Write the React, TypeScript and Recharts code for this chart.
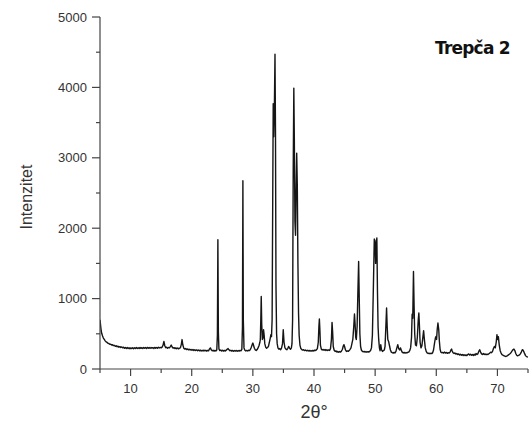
import React from "react";
import { LineChart, Line, XAxis, YAxis } from "recharts";

// [2θ (degrees), intensity (counts)]
const lowAngle: [number, number][] = [
  [5.0, 700], [5.05, 660], [5.12, 600], [5.2, 540], [5.3, 500], [5.42, 470], [5.55, 440], [5.7, 420],
  [5.85, 400], [6.0, 385], [6.15, 378], [6.3, 366], [6.45, 362], [6.6, 350], [6.75, 352], [6.9, 340],
  [7.05, 344], [7.2, 332], [7.35, 336], [7.5, 322], [7.65, 330], [7.8, 316], [7.95, 324], [8.1, 310],
  [8.25, 318], [8.4, 305], [8.55, 314], [8.7, 300], [8.85, 310], [9.0, 296], [9.15, 306], [9.3, 292],
  [9.45, 304], [9.6, 290], [9.75, 302], [9.9, 288], [10.05, 300], [10.2, 290], [10.35, 303], [10.5, 289],
  [10.65, 301], [10.8, 291], [10.95, 304], [11.1, 292], [11.25, 302], [11.4, 290], [11.55, 305], [11.7, 293],
  [11.85, 303], [12.0, 291], [12.15, 306], [12.3, 294], [12.45, 304], [12.6, 292], [12.75, 307], [12.9, 295],
  [13.05, 305], [13.2, 293], [13.35, 306], [13.5, 296], [13.65, 304], [13.8, 292], [13.95, 307], [14.1, 296],
  [14.25, 305], [14.4, 294], [14.55, 308], [14.7, 298], [14.85, 306], [15.0, 300], [15.15, 310], [15.3, 335],
  [15.45, 392], [15.6, 330], [15.75, 302], [15.9, 310], [16.05, 296], [16.2, 306], [16.35, 300], [16.5, 318],
  [16.65, 340], [16.8, 312], [16.95, 296], [17.1, 304], [17.25, 290], [17.4, 300], [17.55, 288], [17.7, 298],
  [17.85, 286], [18.0, 296], [18.15, 300], [18.3, 350], [18.42, 418], [18.55, 340], [18.7, 296], [18.85, 282],
  [19.0, 290], [19.15, 276], [19.3, 286], [19.45, 272], [19.6, 282], [19.75, 270], [19.9, 278],
];

const midAngle: [number, number][] = [
  [20.05, 266], [20.2, 276], [20.35, 264], [20.5, 274], [20.65, 262], [20.8, 272], [20.95, 260], [21.1, 270],
  [21.25, 258], [21.4, 268], [21.55, 256], [21.7, 266], [21.85, 256], [22.0, 268], [22.15, 258], [22.3, 266],
  [22.45, 254], [22.6, 264], [22.75, 258], [22.9, 285], [23.05, 300], [23.2, 272], [23.35, 258], [23.5, 266],
  [23.65, 254], [23.8, 264], [23.95, 256], [24.1, 270], [24.2, 480], [24.28, 1836], [24.36, 520], [24.45, 285],
  [24.6, 262], [24.75, 270], [24.9, 256], [25.05, 266], [25.2, 254], [25.35, 264], [25.5, 256], [25.65, 268],
  [25.8, 280], [25.95, 290], [26.1, 272], [26.25, 260], [26.4, 266], [26.55, 254], [26.7, 264], [26.85, 252],
  [27.0, 262], [27.15, 254], [27.3, 264], [27.45, 252], [27.6, 262], [27.75, 254], [27.9, 264], [28.05, 258],
  [28.2, 280], [28.3, 600], [28.37, 2674], [28.44, 700], [28.55, 300], [28.7, 266], [28.85, 256], [29.0, 264],
  [29.15, 256], [29.3, 266], [29.45, 262], [29.6, 280], [29.75, 310], [29.9, 350], [30.0, 369], [30.1, 340],
  [30.25, 295], [30.4, 272], [30.55, 262], [30.7, 276], [30.85, 300], [31.0, 330], [31.15, 380], [31.22, 416],
  [31.3, 700], [31.37, 1031], [31.45, 640], [31.55, 420], [31.65, 440], [31.75, 558], [31.85, 480], [31.95, 360],
  [32.1, 310], [32.25, 296], [32.4, 306], [32.55, 321], [32.7, 380], [32.85, 440], [32.95, 487], [33.05, 460],
  [33.15, 700], [33.25, 2400], [33.33, 3770], [33.42, 3300], [33.52, 3700], [33.62, 4470], [33.7, 3400], [33.78, 1200],
  [33.88, 500], [33.98, 360], [34.1, 300], [34.25, 282], [34.4, 290], [34.55, 274], [34.7, 300], [34.85, 360],
  [34.97, 558], [35.1, 380], [35.25, 300], [35.4, 282], [35.55, 274], [35.7, 290], [35.85, 321], [36.0, 296],
  [36.15, 280], [36.3, 300], [36.4, 360], [36.5, 700], [36.6, 2800], [36.7, 3990], [36.78, 3300], [36.88, 2100],
  [36.98, 1900], [37.07, 2500], [37.17, 3067], [37.27, 2600], [37.37, 1500], [37.47, 800], [37.57, 480], [37.7, 340],
  [37.85, 290], [38.0, 276], [38.15, 268], [38.3, 274], [38.45, 262], [38.6, 270], [38.75, 258], [38.9, 266],
  [39.05, 256], [39.2, 264], [39.35, 254], [39.5, 262], [39.65, 254], [39.8, 264], [39.95, 256],
];

const highAngle: [number, number][] = [
  [40.1, 268], [40.25, 262], [40.4, 272], [40.55, 290], [40.7, 380], [40.8, 600], [40.88, 710], [40.96, 560],
  [41.05, 340], [41.2, 282], [41.35, 270], [41.5, 278], [41.65, 266], [41.8, 276], [41.95, 264], [42.1, 274],
  [42.25, 262], [42.4, 272], [42.55, 264], [42.7, 290], [42.85, 420], [42.95, 662], [43.05, 520], [43.15, 320],
  [43.3, 266], [43.45, 250], [43.6, 258], [43.75, 240], [43.9, 250], [44.05, 238], [44.2, 248], [44.35, 240],
  [44.5, 256], [44.65, 280], [44.8, 330], [44.9, 345], [45.0, 320], [45.15, 270], [45.3, 250], [45.45, 258],
  [45.6, 250], [45.75, 262], [45.9, 280], [46.05, 300], [46.2, 360], [46.35, 420], [46.5, 600], [46.62, 781],
  [46.72, 640], [46.82, 450], [46.92, 420], [47.05, 600], [47.18, 1100], [47.3, 1528], [47.4, 1000], [47.5, 500],
  [47.62, 320], [47.75, 270], [47.9, 252], [48.05, 244], [48.2, 250], [48.35, 240], [48.5, 248], [48.65, 238],
  [48.8, 246], [48.95, 240], [49.1, 250], [49.25, 262], [49.4, 300], [49.55, 480], [49.72, 1200], [49.86, 1846],
  [49.98, 1820], [50.08, 1500], [50.18, 1760], [50.28, 1860], [50.38, 1100], [50.48, 600], [50.58, 420], [50.7, 300],
  [50.8, 260], [50.92, 345], [51.05, 270], [51.2, 250], [51.35, 262], [51.5, 270], [51.62, 320], [51.75, 600],
  [51.87, 866], [51.97, 600], [52.07, 420], [52.2, 392], [52.35, 330], [52.5, 270], [52.65, 240], [52.8, 232],
  [52.95, 226], [53.1, 236], [53.25, 228], [53.4, 250], [53.55, 300], [53.7, 345], [53.85, 290], [54.0, 270],
  [54.15, 300], [54.3, 260], [54.45, 236], [54.6, 228], [54.75, 236], [54.9, 226], [55.05, 234], [55.2, 228],
  [55.35, 238], [55.5, 240], [55.65, 260], [55.8, 300], [55.95, 450], [56.05, 780], [56.15, 720], [56.27, 1386],
  [56.37, 900], [56.47, 500], [56.6, 340], [56.75, 330], [56.9, 450], [57.05, 700], [57.15, 795], [57.25, 600],
  [57.35, 380], [57.5, 300], [57.65, 330], [57.8, 450], [57.93, 544], [58.05, 420], [58.2, 300], [58.35, 250],
  [58.5, 228], [58.65, 220], [58.8, 226], [58.95, 216], [59.1, 224], [59.25, 218], [59.4, 232], [59.55, 270],
  [59.7, 360], [59.85, 440], [59.95, 463], [60.05, 420], [60.15, 560], [60.27, 653], [60.4, 560], [60.5, 400],
  [60.62, 280], [60.75, 240], [60.9, 230],
];

const tailAngle: [number, number][] = [
  [61.05, 236], [61.2, 226], [61.35, 240], [61.5, 226], [61.65, 236], [61.8, 222], [61.95, 232], [62.1, 226],
  [62.25, 240], [62.4, 270], [62.5, 283], [62.6, 255], [62.75, 230], [62.9, 220], [63.05, 228], [63.2, 212],
  [63.35, 220], [63.5, 206], [63.65, 214], [63.8, 200], [63.95, 210], [64.1, 196], [64.25, 206], [64.4, 192],
  [64.55, 204], [64.7, 190], [64.85, 200], [65.0, 190], [65.15, 206], [65.3, 214], [65.45, 200], [65.6, 210],
  [65.75, 196], [65.9, 206], [66.05, 192], [66.2, 210], [66.35, 196], [66.5, 220], [66.65, 205], [66.8, 215],
  [66.95, 250], [67.1, 274], [67.25, 240], [67.4, 214], [67.55, 206], [67.7, 220], [67.85, 206], [68.0, 214],
  [68.15, 203], [68.3, 212], [68.45, 205], [68.6, 216], [68.75, 225], [68.9, 240], [69.05, 232], [69.2, 250],
  [69.35, 290], [69.5, 320], [69.65, 300], [69.8, 380], [69.92, 487], [70.02, 420], [70.15, 460], [70.3, 340],
  [70.45, 260], [70.6, 227], [70.75, 205], [70.9, 196], [71.05, 188], [71.2, 184], [71.35, 178], [71.5, 182],
  [71.65, 190], [71.8, 200], [71.95, 210], [72.1, 220], [72.25, 236], [72.4, 256], [72.55, 276], [72.7, 283],
  [72.85, 262], [73.0, 220], [73.15, 196], [73.3, 186], [73.45, 192], [73.6, 200], [73.75, 215], [73.9, 240],
  [74.05, 270], [74.15, 274], [74.3, 250], [74.45, 218], [74.6, 190], [74.75, 176], [74.9, 172], [75.0, 168],
];

const xTicks = [5, 10, 15, 20, 25, 30, 35, 40, 45, 50, 55, 60, 65, 70, 75];
const yTicks = [0, 500, 1000, 1500, 2000, 2500, 3000, 3500, 4000, 4500, 5000];
const xTitle = "2θ°";
const yTitle = "Intenzitet";
const sampleTitle = "Trepča 2";

const data = [...lowAngle, ...midAngle, ...highAngle, ...tailAngle].map(([x, y]) => ({ x, y }));

const AXIS = "#444";
const LABEL = "#333";
const SANS = "'Liberation Sans', Arial, sans-serif";

const XTick = (props: any) => {
  const { x, y, payload } = props;
  const v = payload.value;
  const major = v % 10 === 0;
  return (
    <g>
      <line x1={x} x2={x} y1={y} y2={y + (major ? 7 : 4)} stroke={AXIS} strokeWidth={1.2} />
      {major && (
        <text x={x} y={y + 24} textAnchor="middle" fontSize={13} fill={LABEL} fontFamily={SANS}>
          {v}
        </text>
      )}
    </g>
  );
};

const YTick = (props: any) => {
  const { x, y, payload } = props;
  const v = payload.value;
  const major = v % 1000 === 0;
  return (
    <g>
      <line x1={x - (major ? 8 : 4)} x2={x} y1={y} y2={y} stroke={AXIS} strokeWidth={1.2} />
      {major && (
        <text x={x - 13} y={y + 4.5} textAnchor="end" fontSize={13} fill={LABEL} fontFamily={SANS}>
          {v}
        </text>
      )}
    </g>
  );
};

const XTitle = () => (
  <text x={314} y={418} textAnchor="middle" fontSize={18} fill={LABEL} fontFamily={SANS}>
    {xTitle}
  </text>
);

const YTitle = () => (
  <text
    x={32}
    y={197}
    transform="rotate(-90, 32, 197)"
    textAnchor="middle"
    fontSize={16}
    fill={LABEL}
    fontFamily={SANS}
  >
    {yTitle}
  </text>
);

export default function App() {
  return (
    <div style={{ position: "absolute", left: 0, top: 0, width: 531, height: 432, background: "#fff" }}>
      <LineChart width={531} height={432} data={data} margin={{ top: 17, right: 3, bottom: 0, left: 0 }}>
        <XAxis
          type="number"
          dataKey="x"
          domain={[5, 75]}
          ticks={xTicks}
          interval={0}
          allowDataOverflow
          height={63}
          tickSize={0}
          tickMargin={0}
          tickLine={false}
          axisLine={{ stroke: AXIS, strokeWidth: 1.2 }}
          tick={<XTick />}
          label={<XTitle />}
        />
        <YAxis
          type="number"
          domain={[0, 5000]}
          ticks={yTicks}
          interval={0}
          width={100}
          tickSize={0}
          tickMargin={0}
          tickLine={false}
          axisLine={{ stroke: AXIS, strokeWidth: 1.2 }}
          tick={<YTick />}
          label={<YTitle />}
        />
        <Line
          type="linear"
          dataKey="y"
          stroke="#151515"
          strokeWidth={1.4}
          strokeLinejoin="round"
          dot={false}
          isAnimationActive={false}
        />
      </LineChart>
      <svg width={531} height={432} style={{ position: "absolute", left: 0, top: 0, pointerEvents: "none" }}>
        <text
          x={435}
          y={54}
          fontSize={17}
          fontWeight="bold"
          fill="#111"
          letterSpacing={-0.8}
          fontFamily="'DejaVu Sans', Verdana, sans-serif"
        >
          {sampleTitle}
        </text>
      </svg>
    </div>
  );
}
